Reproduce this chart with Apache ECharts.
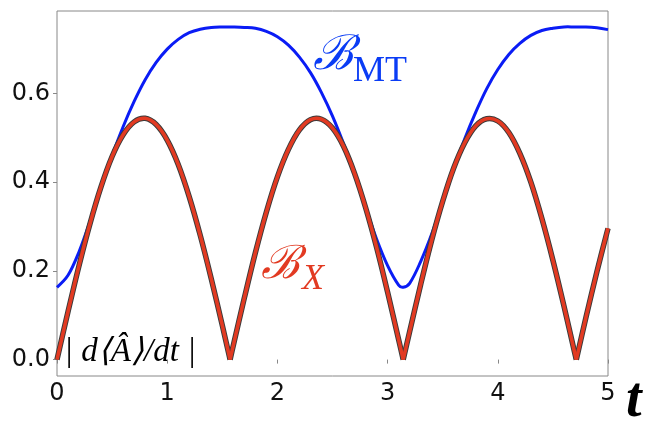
<!DOCTYPE html>
<html>
<head>
<meta charset="utf-8">
<script src="https://cdn.jsdelivr.net/npm/echarts@6/dist/echarts.min.js"></script>
<style>
  html, body { margin: 0; padding: 0; background: #fff; }
  #chart { width: 655px; height: 422px; }
</style>
</head>
<body>
<div id="chart"></div>
<script>
// time samples (cusps of |d<A>/dt| included)
var tVals = [0, 0.1, 0.2, 0.3, 0.4, 0.5, 0.6, 0.7, 0.8, 0.9, 1.0, 1.1, 1.2, 1.3, 1.4, 1.5, 1.5708,
  1.6, 1.7, 1.8, 1.9, 2.0, 2.1, 2.2, 2.3, 2.4, 2.5, 2.6, 2.7, 2.8, 2.9, 3.0, 3.1, 3.1416,
  3.2, 3.3, 3.4, 3.5, 3.6, 3.7, 3.8, 3.9, 4.0, 4.1, 4.2, 4.3, 4.4, 4.5, 4.6, 4.7, 4.7124,
  4.8, 4.9, 5.0];

// B_MT (blue)
var mtVals = [0.163, 0.19, 0.243, 0.312, 0.388, 0.460, 0.525, 0.582, 0.631, 0.670, 0.700, 0.722, 0.737, 0.745, 0.749, 0.750, 0.750,
  0.750, 0.749, 0.747, 0.740, 0.728, 0.709, 0.682, 0.647, 0.602, 0.549, 0.487, 0.418, 0.344, 0.272, 0.212, 0.168, 0.163,
  0.172, 0.221, 0.283, 0.356, 0.430, 0.498, 0.558, 0.611, 0.654, 0.688, 0.713, 0.731, 0.742, 0.747, 0.750, 0.750, 0.750,
  0.750, 0.748, 0.744];

// B_X and |d<A>/dt| (same curve)
var xVals = [0, 0.108, 0.212, 0.307, 0.390, 0.458, 0.507, 0.536, 0.544, 0.530, 0.495, 0.440, 0.367, 0.280, 0.182, 0.077, 0,
  0.032, 0.139, 0.241, 0.333, 0.412, 0.474, 0.518, 0.541, 0.542, 0.522, 0.481, 0.420, 0.343, 0.253, 0.152, 0.045, 0,
  0.063, 0.169, 0.269, 0.357, 0.432, 0.489, 0.527, 0.543, 0.538, 0.512, 0.465, 0.400, 0.318, 0.224, 0.121, 0.013, 0,
  0.095, 0.199, 0.296];

var yTicks = [0, 0.2, 0.4, 0.6];

// split at the zeros so every hump keeps a sharp cusp
function humps(vals) {
  var segs = [], cur = [];
  for (var i = 0; i < tVals.length; i++) {
    cur.push([tVals[i], vals[i]]);
    if (vals[i] === 0 && i > 0 && i < tVals.length - 1) {
      segs.push(cur);
      cur = [[tVals[i], vals[i]]];
    }
  }
  segs.push(cur);
  return segs;
}

// one smooth curve per segment, points go through the grid's own scale
function curve(segs, color, width, z) {
  return {
    type: 'custom',
    coordinateSystem: 'cartesian2d',
    data: segs.map(function (s, i) { return [s[0][0], s[0][1], i]; }),
    silent: true,
    z: z,
    renderItem: function (params, api) {
      var seg = segs[api.value(2)];
      return {
        type: 'polyline',
        shape: { points: seg.map(function (p) { return api.coord(p); }), smooth: 0.35 },
        style: { stroke: color, lineWidth: width, fill: null, lineJoin: 'round' }
      };
    }
  };
}

var mtSeg = [tVals.map(function (t, i) { return [t, mtVals[i]]; })];
var xSegs = humps(xVals);

var chart = echarts.init(document.getElementById('chart'), null, { renderer: 'canvas' });

chart.setOption({
  animation: false,
  backgroundColor: '#fff',
  grid: {
    left: 57, right: 47, top: 11, bottom: 46,
    show: true, borderColor: '#888', borderWidth: 1
  },
  xAxis: {
    type: 'value', min: 0, max: 5, interval: 1,
    axisLine: { show: false },
    axisTick: { show: true, length: 4, lineStyle: { color: '#888' } },
    axisLabel: { fontFamily: 'DejaVu Sans', fontSize: 24, color: '#111', margin: 6 },
    splitLine: { show: false }
  },
  yAxis: {
    type: 'value', min: -0.037, max: 0.786,
    axisLine: { show: false },
    axisTick: { show: true, length: 4, customValues: yTicks, lineStyle: { color: '#888' } },
    axisLabel: {
      fontFamily: 'DejaVu Sans', fontSize: 24, color: '#111', margin: 7,
      customValues: yTicks,
      formatter: function (v) { return v.toFixed(1); }
    },
    splitLine: { show: false }
  },
  series: [
    curve(mtSeg, '#0a1cf5', 3, 2),
    curve(xSegs, '#3a3a3a', 5.5, 3),
    curve(xSegs, '#e23a22', 3.6, 4)
  ],
  graphic: [
    {
      type: 'text', left: 313, top: 33,
      style: {
        text: '{b|ℬ}{s|MT}',
        rich: {
          b: { fontFamily: 'DejaVu Serif', fontSize: 48, fill: '#0a3cf5', fontStyle: 'italic' },
          s: { fontFamily: 'Liberation Serif', fontSize: 36, fill: '#0a3cf5', padding: [30, 0, 0, 0] }
        }
      }
    },
    {
      type: 'text', left: 261, top: 243,
      style: {
        text: '{b|ℬ}{s|X}',
        rich: {
          b: { fontFamily: 'DejaVu Serif', fontSize: 46, fill: '#e23a22', fontStyle: 'italic' },
          s: { fontFamily: 'Liberation Serif', fontSize: 36, fill: '#e23a22', fontStyle: 'italic', padding: [28, 0, 0, 2] }
        }
      }
    },
    {
      type: 'text', left: 64, top: 336,
      style: {
        text: '| d⟨Â⟩/dt |',
        font: 'italic 33px "Liberation Serif"',
        fill: '#000'
      }
    },
    {
      type: 'text', left: 626, top: 374,
      style: {
        text: 't',
        font: 'italic bold 56px "Liberation Serif"',
        fill: '#000'
      }
    }
  ]
});
</script>
</body>
</html>
